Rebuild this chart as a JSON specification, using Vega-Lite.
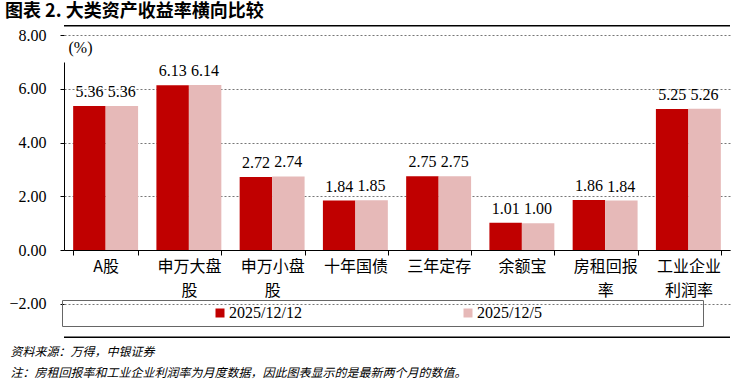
{
  "$schema": "https://vega.github.io/schema/vega-lite/v6.json",
  "width": 666,
  "height": 313,
  "autosize": {"type": "none"},
  "padding": {"left": 64, "top": 25, "right": 15, "bottom": 51},
  "background": "white",
  "config": {
    "view": {"stroke": null},
    "axisY": {
      "values": [0, 1, 2, 3, 4, 5, 6, 7],
      "format": ".2f",
      "labelOverlap": false,
      "grid": true,
      "gridDash": [2, 2],
      "gridColor": "#777",
      "domainColor": "#000",
      "domainDash": [0, 88, 188, 1000],
      "tickColor": "#000",
      "tickSize": 4,
      "labelPadding": 14,
      "labelFont": "Liberation Serif, Times New Roman, serif",
      "labelFontSize": 16,
      "labelColor": "#000",
      "titleAngle": 0,
      "titleX": 16,
      "titleY": 22,
      "titleAlign": "center",
      "titleBaseline": "middle",
      "titleFont": "Liberation Serif, Times New Roman, serif",
      "titleFontSize": 16,
      "titleFontWeight": "normal",
      "titleColor": "#000"
    }
  },
  "title": {
    "text": "图表 2. 大类资产收益率横向比较",
    "anchor": "start",
    "frame": "group",
    "dx": -59,
    "offset": 4,
    "font": "Noto Sans CJK SC",
    "fontSize": 18,
    "fontWeight": "bold",
    "color": "#000"
  },
  "data": {
    "values": [
      {"cat": "A股", "date": "2025/12/12", "value": 5.36},
      {"cat": "A股", "date": "2025/12/5", "value": 5.36},
      {"cat": "申万大盘股", "date": "2025/12/12", "value": 6.13},
      {"cat": "申万大盘股", "date": "2025/12/5", "value": 6.14},
      {"cat": "申万小盘股", "date": "2025/12/12", "value": 2.72},
      {"cat": "申万小盘股", "date": "2025/12/5", "value": 2.74},
      {"cat": "十年国债", "date": "2025/12/12", "value": 1.84},
      {"cat": "十年国债", "date": "2025/12/5", "value": 1.85},
      {"cat": "三年定存", "date": "2025/12/12", "value": 2.75},
      {"cat": "三年定存", "date": "2025/12/5", "value": 2.75},
      {"cat": "余额宝", "date": "2025/12/12", "value": 1.01},
      {"cat": "余额宝", "date": "2025/12/5", "value": 1.00},
      {"cat": "房租回报率", "date": "2025/12/12", "value": 1.86},
      {"cat": "房租回报率", "date": "2025/12/5", "value": 1.84},
      {"cat": "工业企业利润率", "date": "2025/12/12", "value": 5.25},
      {"cat": "工业企业利润率", "date": "2025/12/5", "value": 5.26}
    ]
  },
  "layer": [
    {
      "mark": {"type": "bar"},
      "encoding": {
        "x": {
          "field": "cat",
          "type": "nominal",
          "sort": null,
          "scale": {"paddingInner": 0.22, "paddingOuter": 0.11},
          "axis": {
            "offset": -88,
            "title": ["资料来源：万得，中银证券", "注：房租回报率和工业企业利润率为月度数据，因此图表显示的是最新两个月的数值。"],
            "titleX": -54,
            "titleY": 96,
            "titleAlign": "left",
            "titleBaseline": "top",
            "titleFont": "Noto Sans CJK SC",
            "titleFontSize": 12,
            "titleFontStyle": "italic",
            "titleFontWeight": "normal",
            "titleLineHeight": 21,
            "titleColor": "#000",
            "labelExpr": "length(datum.label) > 4 ? [substring(datum.label, 0, 4), substring(datum.label, 4)] : datum.label",
            "labelFont": "Noto Sans CJK SC",
            "labelFontSize": 16,
            "labelLineHeight": 24,
            "labelAngle": 0,
            "labelPadding": 3,
            "labelColor": "#000",
            "tickBand": "extent",
            "tickSize": 5,
            "tickColor": "#000",
            "domainColor": "#000"
          }
        },
        "xOffset": {
          "field": "date",
          "type": "nominal",
          "sort": ["2025/12/12", "2025/12/5"],
          "scale": {"paddingInner": 0, "paddingOuter": 0}
        },
        "y": {
          "field": "value",
          "type": "quantitative",
          "title": "(%)",
          "scale": {"domain": [-3.2766, 8.3777], "nice": false, "zero": false}
        },
        "color": {
          "field": "date",
          "type": "nominal",
          "scale": {"domain": ["2025/12/12", "2025/12/5"], "range": ["#C00000", "#E6B9B8"]},
          "legend": {
            "orient": "none",
            "legendX": -2,
            "legendY": 275,
            "direction": "horizontal",
            "title": " ",
            "titleOrient": "right",
            "titlePadding": 156,
            "strokeColor": "#666",
            "padding": 5,
            "symbolType": "square",
            "symbolSize": 81,
            "symbolOffset": 145,
            "labelOffset": 1,
            "columnPadding": 13,
            "labelFont": "Liberation Serif, Times New Roman, serif",
            "labelFontSize": 16,
            "labelColor": "#000",
            "labelLimit": 300,
            "symbolStrokeWidth": 0
          }
        }
      }
    },
    {
      "mark": {"type": "text", "baseline": "alphabetic", "dy": -9, "font": "Liberation Serif, Times New Roman, serif", "fontSize": 16, "color": "#000"},
      "encoding": {
        "x": {"field": "cat", "type": "nominal", "sort": null},
        "xOffset": {"field": "date", "type": "nominal", "sort": ["2025/12/12", "2025/12/5"]},
        "y": {"field": "value", "type": "quantitative", "title": "(%)", "scale": {"domain": [-3.2766, 8.3777], "nice": false, "zero": false}},
        "text": {"field": "value", "type": "quantitative", "format": ".2f"}
      }
    },
    {
      "data": {"values": [{"line": "top"}]},
      "mark": {"type": "rule", "color": "#000", "strokeWidth": 1.5},
      "encoding": {"y": {"datum": 8.35, "type": "quantitative", "title": "(%)", "scale": {"domain": [-3.2766, 8.3777], "nice": false, "zero": false}}}
    },
    {
      "data": {"values": [{"line": "bottom"}]},
      "mark": {"type": "rule", "color": "#000", "strokeWidth": 1.5},
      "encoding": {"y": {"datum": -3.25, "type": "quantitative", "title": "(%)", "scale": {"domain": [-3.2766, 8.3777], "nice": false, "zero": false}}}
    }
  ]
}
